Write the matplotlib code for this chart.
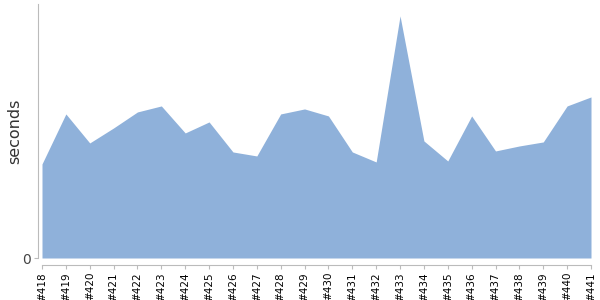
import matplotlib
matplotlib.use("Agg")
import matplotlib.pyplot as plt

builds = ["#418", "#419", "#420", "#421", "#422", "#423", "#424", "#425",
          "#426", "#427", "#428", "#429", "#430", "#431", "#432", "#433",
          "#434", "#435", "#436", "#437", "#438", "#439", "#440", "#441"]
seconds = [94, 144, 115, 130, 146, 152, 125, 136, 106, 102, 144, 149,
           142, 106, 96, 242, 117, 97, 142, 107, 112, 116, 152, 161]

plt.rcParams.update({
    "font.family": "DejaVu Sans",
})

fig = plt.figure(figsize=(6, 3), dpi=100)
ax = fig.add_axes([0.07, 0.14, 0.915, 0.847])

x = list(range(len(builds)))
ax.fill_between(x, seconds, 0, color="#8fb1da", linewidth=0)
ax.set_xlim(0, len(builds) - 1)
ax.set_ylim(0, 254)

for side in ("top", "right"):
    ax.spines[side].set_visible(False)
for side in ("left", "bottom"):
    ax.spines[side].set_color("#bbbbbb")
    ax.spines[side].set_linewidth(0.8)
ax.spines["left"].set_position(("outward", 3))
ax.spines["bottom"].set_position(("outward", 5))
ax.tick_params(axis="both", colors="#bbbbbb", length=3, width=0.8, pad=2)
ax.tick_params(axis="x", labelcolor="black", labelsize=7.5, labelrotation=90)
ax.tick_params(axis="y", labelcolor="#444444", labelsize=10)

ax.set_xticks(x)
ax.set_xticklabels(builds)
ax.set_yticks([0])
ax.set_yticklabels(["0"])
ax.set_ylabel("seconds", fontsize=11.5, color="#333333", labelpad=0)

fig.savefig("out.png", dpi=100)
